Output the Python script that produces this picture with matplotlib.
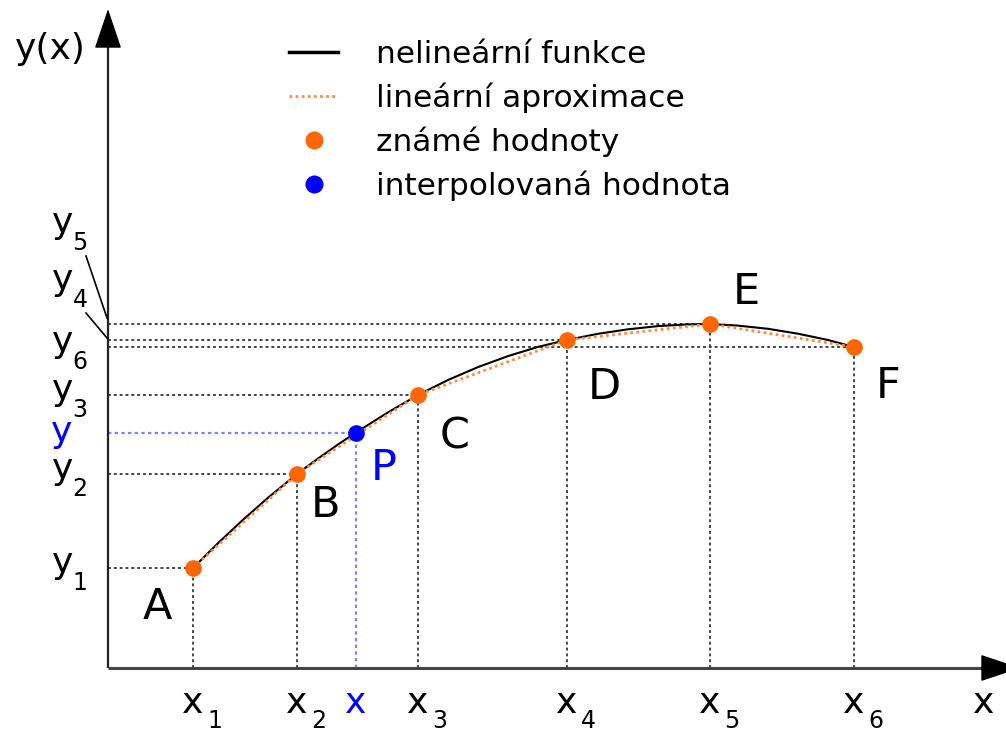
import matplotlib
matplotlib.use('Agg')
import matplotlib.pyplot as plt
from matplotlib.lines import Line2D

# known points A..F (axis units = 100 px)
body_labels = ['A', 'B', 'C', 'D', 'E', 'F']
known_x = [0.85, 1.89, 3.10, 4.59, 6.02, 7.46]
known_y = [1.00, 1.94, 2.73, 3.28, 3.44, 3.21]
x_subs = ['1', '2', '3', '4', '5', '6']
y_subs = ['1', '2', '3', '4', '5', '6']

# interpolated point P
interp_x = 2.48
interp_y = 2.35

# nonlinear function
curve_x = [0.85, 1.10, 1.35, 1.60, 1.89, 2.10, 2.30, 2.48, 2.80, 3.10, 3.40, 3.70,
           4.00, 4.30, 4.59, 4.90, 5.20, 5.50, 5.80, 6.02, 6.30, 6.60, 6.90, 7.20, 7.46]
curve_y = [1.00, 1.248, 1.482, 1.702, 1.94, 2.094, 2.235, 2.355, 2.556, 2.73, 2.88, 3.009,
           3.119, 3.211, 3.28, 3.342, 3.387, 3.419, 3.436, 3.44, 3.424, 3.392, 3.343, 3.28, 3.21]

legend_labels = ['nelineární funkce', 'lineární aproximace',
                 'známé hodnoty', 'interpolovaná hodnota']

# layout only
label_off = [(-0.36, -0.51), (0.29, -0.43), (0.37, -0.54),
             (0.37, -0.59), (0.36, 0.20), (0.34, -0.51)]
ylab_base = {3: 3.78, 4: 4.35}   # y4, y5 lifted with leader lines

ORANGE = '#ff6600'
ORANGE_LINE = '#ff8c42'
BLUE = '#0000ff'
BLUE_GUIDE = '#8080ff'
GREY = '#444444'

plt.rcParams['font.family'] = 'DejaVu Sans'

fig = plt.figure(figsize=(10.06, 7.32), dpi=100)
ax = fig.add_axes([0, 0, 1, 1])
ax.set_xlim(-1.08, 8.98)
ax.set_ylim(-0.64, 6.68)
ax.axis('off')

guide = dict(color=GREY, lw=1.4, linestyle=(0, (1.5, 1.5)), zorder=1)
for x, y in zip(known_x, known_y):
    ax.plot([0, x], [y, y], **guide)
    ax.plot([x, x], [0, y], **guide)
bguide = dict(color=BLUE_GUIDE, lw=1.6, linestyle=(0, (1.5, 1.5)), zorder=1)
ax.plot([0, interp_x], [interp_y, interp_y], **bguide)
ax.plot([interp_x, interp_x], [0, interp_y], **bguide)

# axes with arrows
ax.plot([0, 8.8], [0, 0], color=GREY, lw=2.2, zorder=2, solid_capstyle='butt')
ax.plot([0, 0], [0, 6.3], color='#222222', lw=1.6, zorder=2, solid_capstyle='butt')
arrow = dict(arrowstyle='-|>,head_length=0.86,head_width=0.29', mutation_scale=30,
             color='black', lw=1.0, shrinkA=0, shrinkB=0)
ax.annotate('', xy=(9.12, 0), xytext=(8.74, 0), arrowprops=arrow, annotation_clip=False)
ax.annotate('', xy=(0, 6.59), xytext=(0, 6.21), arrowprops=arrow, annotation_clip=False)

ax.plot(curve_x, curve_y, color='black', lw=1.5, zorder=3, solid_joinstyle='round')
ax.plot(known_x, known_y, color=ORANGE_LINE, lw=2, linestyle=(0, (1, 1.2)), zorder=4)
ax.plot(known_x, known_y, 'o', color=ORANGE, ms=12, mec='none', zorder=5)
ax.plot([interp_x], [interp_y], 'o', color=BLUE, ms=12, mec='none', zorder=5)

# point labels
for lab, x, y, (dx, dy) in zip(body_labels, known_x, known_y, label_off):
    ax.text(x + dx, y + dy, lab, fontsize=31, ha='center', va='baseline')
ax.text(interp_x + 0.28, interp_y - 0.47, 'P', fontsize=31, ha='center',
        va='baseline', color=BLUE)

# x tick labels (letter + lowered subscript)
for x, s in zip(known_x, x_subs):
    ax.text(x, -0.45, 'x', fontsize=26, ha='center', va='baseline')
    ax.text(x + 0.14, -0.595, s, fontsize=17, ha='left', va='baseline')
ax.text(interp_x, -0.45, 'x', fontsize=26, ha='center', va='baseline', color=BLUE)

# y tick labels
for i, (y, s) in enumerate(zip(known_y, y_subs)):
    yb = ylab_base.get(i, y - 0.05)
    ax.text(-0.56, yb, 'y', fontsize=26, ha='left', va='baseline')
    ax.text(-0.355, yb - 0.175, s, fontsize=17, ha='left', va='baseline')
ax.text(-0.57, interp_y - 0.09, 'y', fontsize=26, ha='left', va='baseline', color=BLUE)
ax.plot([-0.22, -0.01], [4.12, 3.50], color='black', lw=1.2)
ax.plot([-0.22, -0.01], [3.55, 3.30], color='black', lw=1.2)

ax.text(8.76, -0.45, 'x', fontsize=26, ha='center', va='baseline')
ax.text(-0.93, 6.09, 'y(x)', fontsize=26, ha='left', va='baseline')

handles = [Line2D([], [], color='black', lw=2.5),
           Line2D([], [], color=ORANGE_LINE, lw=2, linestyle=(0, (1, 1.2))),
           Line2D([], [], color=ORANGE, marker='o', ms=13, mec='none', linestyle='none'),
           Line2D([], [], color=BLUE, marker='o', ms=13, mec='none', linestyle='none')]
ax.legend(handles, legend_labels, loc='upper left',
          bbox_to_anchor=(289 / 1006, 1 - 40 / 732), bbox_transform=fig.transFigure,
          frameon=False, fontsize=22.5, handlelength=1.57, handletextpad=1.22,
          labelspacing=0.43, borderpad=0, borderaxespad=0)

fig.savefig('out.png', dpi=100)
